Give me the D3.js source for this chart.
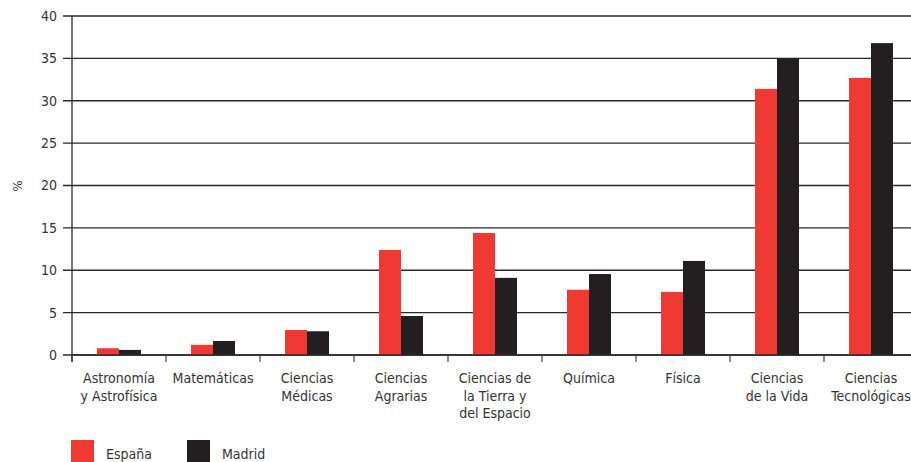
<!DOCTYPE html>
<html>
<head>
<meta charset="utf-8">
<script src="https://cdn.jsdelivr.net/npm/d3@7"></script>
<style>
  body { margin: 0; background: #fff; }
  svg text { font-family: "DejaVu Sans Condensed", "Liberation Sans", sans-serif; fill: #333; }
</style>
</head>
<body>
<div id="root"></div>
<script>
const categories = [
    ["Astronomía", "y Astrofísica"],
    ["Matemáticas"],
    ["Ciencias", "Médicas"],
    ["Ciencias", "Agrarias"],
    ["Ciencias de", "la Tierra y", "del Espacio"],
    ["Química"],
    ["Física"],
    ["Ciencias", "de la Vida"],
    ["Ciencias", "Tecnológicas"]
];
const espana = [0.8, 1.2, 2.95, 12.4, 14.4, 7.7, 7.45, 31.4, 32.7];
const madrid = [0.6, 1.65, 2.8, 4.6, 9.1, 9.55, 11.1, 35.0, 36.8];
const yTicks = [0, 5, 10, 15, 20, 25, 30, 35, 40];
const seriesNames = ["España", "Madrid"];
const colors = ["#ee3a32", "#231f20"];

const margin = {top: 16, left: 72},
    W = 911, H = 462,
    height = 339,
    width = 846;

const svg = d3.select("#root").append("svg")
    .attr("width", W)
    .attr("height", H);

const g = svg.append("g")
    .attr("transform", "translate(" + margin.left + "," + margin.top + ")");

const x = d3.scaleBand()
    .domain(d3.range(categories.length))
    .range([0, width]);

const y = d3.scaleLinear()
    .domain([0, 40])
    .range([height, 0]);

// gridlines + left ticks
g.append("g")
    .selectAll("line")
    .data(yTicks)
    .enter()
    .append("line")
    .attr("x1", -9)
    .attr("x2", W - margin.left)
    .attr("y1", d => y(d))
    .attr("y2", d => y(d))
    .attr("stroke", "#2a2a2a")
    .attr("stroke-width", 1.3);

const yAxis = d3.axisLeft(y)
    .tickValues(yTicks)
    .tickSize(0)
    .tickPadding(15);

g.append("g")
    .call(yAxis)
    .call(s => s.select(".domain").remove())
    .selectAll("text")
    .style("font-size", "14px")
    .attr("fill", "#333");

// bars
const bw = 22;
const data = categories.map((c, i) => ({i: i, vals: [espana[i], madrid[i]]}));

const groups = g.selectAll(".cat")
    .data(data)
    .enter()
    .append("g")
    .attr("class", "cat")
    .attr("transform", d => "translate(" + (x(d.i) + x.bandwidth() / 2 - bw) + ",0)");

groups.selectAll("rect")
    .data(d => d.vals)
    .enter()
    .append("rect")
    .attr("x", (d, j) => j * bw)
    .attr("y", d => y(d))
    .attr("width", bw)
    .attr("height", d => y(0) - y(d))
    .attr("fill", (d, j) => colors[j]);

// x axis ticks between categories
g.append("g")
    .attr("transform", "translate(0," + height + ")")
    .selectAll("line")
    .data(d3.range(categories.length + 1))
    .enter()
    .append("line")
    .attr("x1", d => d * x.step())
    .attr("x2", d => d * x.step())
    .attr("y1", 0)
    .attr("y2", 7)
    .attr("stroke", "#444")
    .attr("stroke-width", 1.2);

g.append("line")
    .attr("x1", 0)
    .attr("x2", W - margin.left)
    .attr("y1", height)
    .attr("y2", height)
    .attr("stroke", "#2a2a2a")
    .attr("stroke-width", 1.6);

// y axis line
g.append("line")
    .attr("x1", 0)
    .attr("x2", 0)
    .attr("y1", 0)
    .attr("y2", height + 7)
    .attr("stroke", "#2a2a2a")
    .attr("stroke-width", 1.3);

// category labels
const labels = g.selectAll(".xlab")
    .data(data)
    .enter()
    .append("text")
    .attr("class", "xlab")
    .attr("text-anchor", "middle")
    .style("font-size", "14px")
    .attr("transform", d => "translate(" + (x(d.i) + x.bandwidth() / 2) + "," + (height + 28) + ")");

labels.selectAll("tspan")
    .data(d => categories[d.i])
    .enter()
    .append("tspan")
    .attr("x", 0)
    .attr("y", (d, k) => k * 17.6)
    .text(d => d);

// y label
svg.append("text")
    .text("%")
    .attr("transform", "translate(22,186) rotate(-90)")
    .attr("text-anchor", "middle")
    .style("font-size", "13px");

// legend
const legend = svg.selectAll(".leg")
    .data(seriesNames)
    .enter()
    .append("g")
    .attr("class", "leg")
    .attr("transform", (d, i) => "translate(" + (71 + i * 116) + ",440)");

legend.append("rect")
    .attr("width", 23)
    .attr("height", 22)
    .attr("fill", (d, i) => colors[i]);

legend.append("text")
    .text(d => d)
    .attr("x", 35)
    .attr("y", 19)
    .style("font-size", "14px");
</script>
</body>
</html>
